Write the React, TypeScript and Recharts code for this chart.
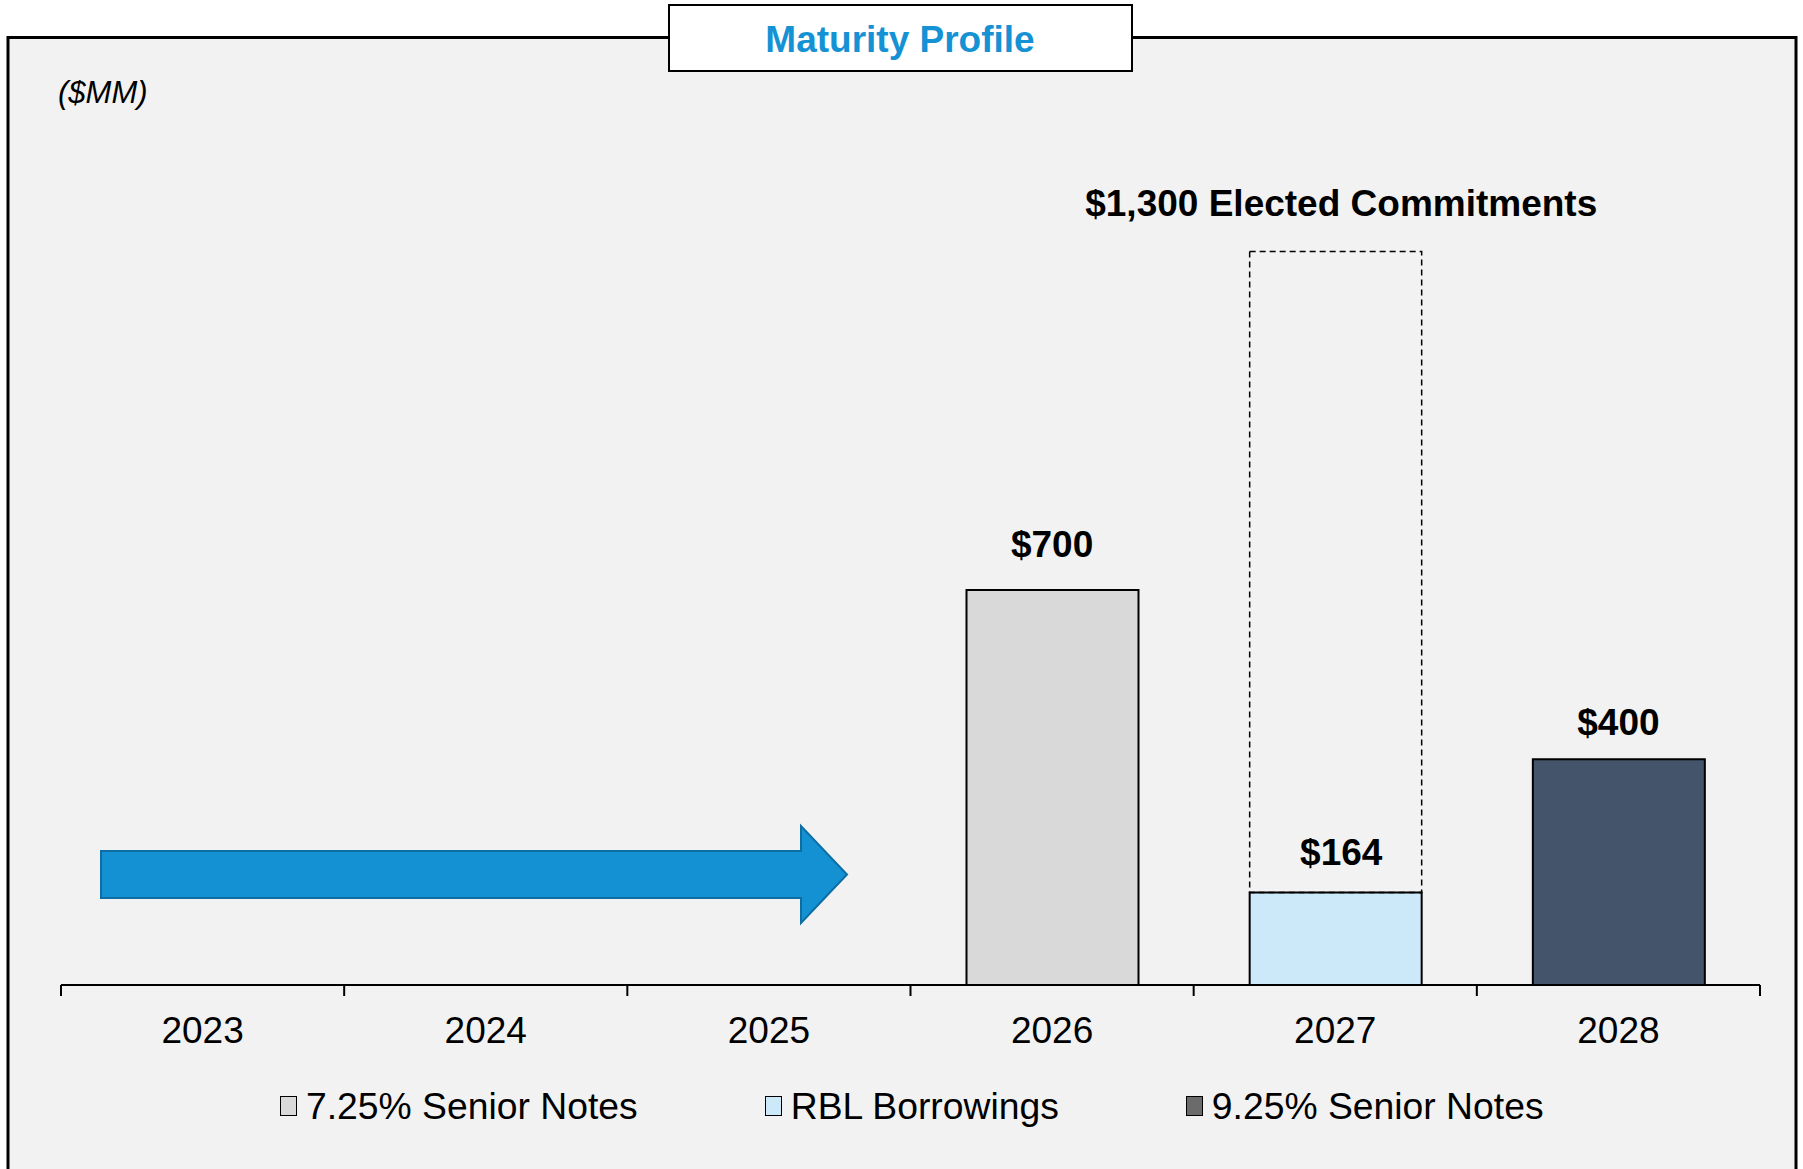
import React from 'react';
import { BarChart, Bar, XAxis, YAxis, Legend, ReferenceDot } from 'recharts';

// ---------- data ----------
const years = ['2023', '2024', '2025', '2026', '2027', '2028'];
const senior725 = [null, null, null, 700, null, null];
const rblBorrowings = [null, null, null, null, 164, null];
const electedCommitments = [null, null, null, null, 1300, null];
const senior925 = [null, null, null, null, null, 400];

const seriesNames = ['7.25% Senior Notes', 'RBL Borrowings', '9.25% Senior Notes'];
const legendSwatches = ['#d9d9d9', '#cce9f9', '#6b6b6b'];
const commitmentText = 'Elected Commitments';
const unitLabel = '($MM)';
const chartTitle = 'Maturity Profile';

const data = years.map((year, i) => ({
  year,
  s725: senior725[i],
  rbl: rblBorrowings[i],
  undrawn:
    electedCommitments[i] != null
      ? (electedCommitments[i] as number) - ((rblBorrowings[i] as number) || 0)
      : null,
  s925: senior925[i],
}));

// ---------- layout ----------
const W = 1803;
const H = 1169;
const FONT = '"Liberation Sans", Arial, Helvetica, sans-serif';
const M = { top: 195, left: 61, right: 43, bottom: 124 };
const XAXIS_H = 60;
const PLOT_W = W - M.left - M.right;
const STEP = PLOT_W / years.length;

const fmt = (v: number) => `$${v.toLocaleString('en-US')}`;

const labelStyle = (offset: number, dx = 0) => ({
  position: 'top' as const,
  offset,
  dx,
  fontSize: 37,
  fontWeight: 700,
  fill: '#000',
  fontFamily: FONT,
});

const Tick = (props: any) => {
  const { x, y, payload, index } = props;
  const last = index === years.length - 1;
  return (
    <g>
      <line x1={x - STEP / 2} x2={x - STEP / 2} y1={y} y2={y + 11} stroke="#000" strokeWidth={2} />
      {last && <line x1={x + STEP / 2} x2={x + STEP / 2} y1={y} y2={y + 11} stroke="#000" strokeWidth={2} />}
      <text x={x} y={y + 58} textAnchor="middle" fontSize={37} fontFamily={FONT} fill="#000">
        {payload.value}
      </text>
    </g>
  );
};

const LegendContent = () => (
  <div
    style={{
      display: 'flex',
      alignItems: 'center',
      height: 40,
      paddingLeft: 280,
      fontFamily: FONT,
      fontSize: 37.3,
      lineHeight: '40px',
      color: '#000',
      whiteSpace: 'nowrap',
    }}
  >
    {seriesNames.map((name, i) => (
      <div key={name} style={{ display: 'flex', alignItems: 'center', marginRight: i < seriesNames.length - 1 ? 127 : 0 }}>
        <span
          style={{
            display: 'inline-block',
            width: 15,
            height: 18,
            background: legendSwatches[i],
            border: '1.5px solid #000',
            marginRight: 9,
          }}
        />
        <span>{name}</span>
      </div>
    ))}
  </div>
);

export default function App() {
  return (
    <div style={{ position: 'absolute', left: 0, top: 0, width: W, height: H, background: '#fff', overflow: 'hidden' }}>
      <svg width={W} height={H} style={{ position: 'absolute', left: 0, top: 0 }}>
        <rect x={8} y={37.5} width={1788} height={H} fill="#f2f2f2" />
        <path d={`M8 ${H + 5} V37.5 H1796 V${H + 5}`} fill="none" stroke="#000" strokeWidth={3} />
        <rect x={669} y={5} width={463} height={66} fill="#fff" stroke="#000" strokeWidth={2} />
        <text x={900} y={52} textAnchor="middle" fontFamily={FONT} fontSize={37} fontWeight={700} fill="#1592d4">
          {chartTitle}
        </text>
        <text x={58} y={103} fontFamily={FONT} fontSize={31} fontStyle="italic" fill="#000">
          {unitLabel}
        </text>
        <polygon
          points="101,851 801,851 801,826 847,874.5 801,923 801,898 101,898"
          fill="#1391d2"
          stroke="#0d6ea3"
          strokeWidth={2}
        />
      </svg>
      <div style={{ position: 'absolute', left: 0, top: 0 }}>
        <BarChart width={W} height={H} data={data} margin={M} style={{ background: 'transparent' }}>
          <XAxis
            dataKey="year"
            height={XAXIS_H}
            axisLine={{ stroke: '#000', strokeWidth: 2 }}
            tickLine={false}
            tickSize={0}
            tickMargin={0}
            interval={0}
            tick={(p: any) => <Tick {...p} />}
          />
          <YAxis hide type="number" domain={[0, 1400]} allowDataOverflow />
          <Legend
            layout="horizontal"
            verticalAlign="middle"
            align="center"
            content={() => <LegendContent />}
            wrapperStyle={{ left: 0, top: 1086, width: W }}
          />
          <Bar dataKey="s725" name={seriesNames[0]} stackId="s" barSize={172} fill="#d9d9d9" stroke="#000" strokeWidth={2} isAnimationActive={false} />
          <Bar dataKey="rbl" name={seriesNames[1]} stackId="s" barSize={172} fill="#cce9f9" stroke="#000" strokeWidth={2} isAnimationActive={false} />
          <Bar dataKey="undrawn" name="Undrawn" stackId="s" barSize={172} fill="none" stroke="#000" strokeWidth={1.5} strokeDasharray="6 4" legendType="none" isAnimationActive={false} />
          <Bar dataKey="s925" name={seriesNames[2]} stackId="s" barSize={172} fill="#44546a" stroke="#000" strokeWidth={2} isAnimationActive={false} />
          {years.map((yr, i) =>
            senior725[i] != null ? (
              <ReferenceDot key={`a${yr}`} x={yr} y={senior725[i] as number} r={0} fill="none" stroke="none"
                label={{ value: fmt(senior725[i] as number), ...labelStyle(33) }} />
            ) : null
          )}
          {years.map((yr, i) =>
            rblBorrowings[i] != null ? (
              <ReferenceDot key={`b${yr}`} x={yr} y={rblBorrowings[i] as number} r={0} fill="none" stroke="none"
                label={{ value: fmt(rblBorrowings[i] as number), ...labelStyle(27, 6) }} />
            ) : null
          )}
          {years.map((yr, i) =>
            electedCommitments[i] != null ? (
              <ReferenceDot key={`c${yr}`} x={yr} y={electedCommitments[i] as number} r={0} fill="none" stroke="none"
                label={{ value: `${fmt(electedCommitments[i] as number)} ${commitmentText}`, ...labelStyle(35, 6) }} />
            ) : null
          )}
          {years.map((yr, i) =>
            senior925[i] != null ? (
              <ReferenceDot key={`d${yr}`} x={yr} y={senior925[i] as number} r={0} fill="none" stroke="none"
                label={{ value: fmt(senior925[i] as number), ...labelStyle(24) }} />
            ) : null
          )}
        </BarChart>
      </div>
    </div>
  );
}
